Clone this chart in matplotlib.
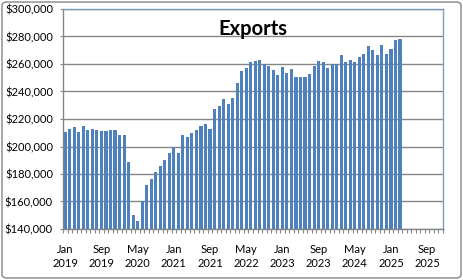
import matplotlib.pyplot as plt
import numpy as np
from matplotlib.patches import FancyBboxPatch
from matplotlib.ticker import FuncFormatter

# Monthly exports, Jan 2019 - Mar 2025 (dollars)
exports_2019 = [210500, 212700, 214100, 210500, 215000, 212000,
                212700, 212000, 211200, 211200, 212000, 212000]
exports_2020 = [208500, 208500, 188500, 150000, 145800, 160000,
                172000, 176000, 181700, 186000, 190000, 195400]
exports_2021 = [199500, 195400, 208000, 207000, 210000, 212300,
                215000, 216600, 212800, 227200, 229500, 234700]
exports_2022 = [231000, 235500, 246500, 254700, 257400, 261600,
                262400, 263000, 259800, 258600, 255700, 252300]
exports_2023 = [257700, 253300, 256400, 250900, 250600, 250600,
                253000, 258500, 262000, 261200, 256900, 260200]
exports_2024 = [260200, 266300, 261200, 262600, 261200, 265300,
                267000, 272800, 269900, 266300, 273500, 267000]
exports_2025 = [270600, 277600, 278300]

exports = (exports_2019 + exports_2020 + exports_2021 + exports_2022 +
           exports_2023 + exports_2024 + exports_2025)

month_names = ['Jan', 'Feb', 'Mar', 'Apr', 'May', 'Jun',
               'Jul', 'Aug', 'Sep', 'Oct', 'Nov', 'Dec']
years = [2019, 2020, 2021, 2022, 2023, 2024, 2025]

# category axis runs Jan 2019 .. Dec 2025
categories = ['%s\n%d' % (m, y) for y in years for m in month_names]

fig = plt.figure(figsize=(4.63, 2.80), dpi=100)
ax = fig.add_axes([63 / 463, 1 - 229 / 280, 380 / 463, 220 / 280])

grey = '#868686'
frame_blue = '#7F9CC0'

x = np.arange(len(exports))
ax.bar(x, exports, width=0.68, color='#4F81BD', zorder=2)

ax.set_xlim(-0.5, len(categories) - 0.5)
ax.set_ylim(140000, 300000)
ax.set_yticks(np.arange(140000, 300001, 20000))
ax.yaxis.set_major_formatter(FuncFormatter(lambda v, p: '${:,.0f}'.format(v)))
ax.yaxis.grid(True, color=grey, linewidth=1.0, zorder=0)
ax.set_axisbelow(True)

label_pos = np.arange(0, len(categories), 8)
ax.set_xticks(label_pos)
ax.set_xticklabels([categories[i] for i in label_pos], linespacing=1.35)
ax.set_xticks(np.arange(-0.5, len(categories), 1), minor=True)
ax.tick_params(axis='x', which='major', length=0, pad=10.5)
ax.tick_params(axis='x', which='minor', length=3, color=grey, width=0.8)
ax.tick_params(axis='y', length=2.2, color=grey, width=0.8, pad=5)

for lab in ax.get_xticklabels() + ax.get_yticklabels():
    lab.set_fontfamily('Lato')
    lab.set_fontsize(8)
    lab.set_color('black')

for side in ['left', 'bottom']:
    ax.spines[side].set_color(grey)
    ax.spines[side].set_linewidth(1.0)
for side in ['top', 'right']:
    ax.spines[side].set_color(frame_blue)
    ax.spines[side].set_linewidth(1.0)

ax.text(0.5, 0.91, 'Exports', transform=ax.transAxes, ha='center',
        va='center', fontfamily='Lato', fontweight='bold', fontsize=14.5)

# outer chart border
border = FancyBboxPatch((2 / 463, 2 / 280), 459 / 463, 276 / 280,
                        boxstyle='round,pad=0,rounding_size=0.012',
                        transform=fig.transFigure, fill=False,
                        edgecolor=grey, linewidth=1.0)
fig.patches.append(border)

fig.savefig('out.png', dpi=100)
